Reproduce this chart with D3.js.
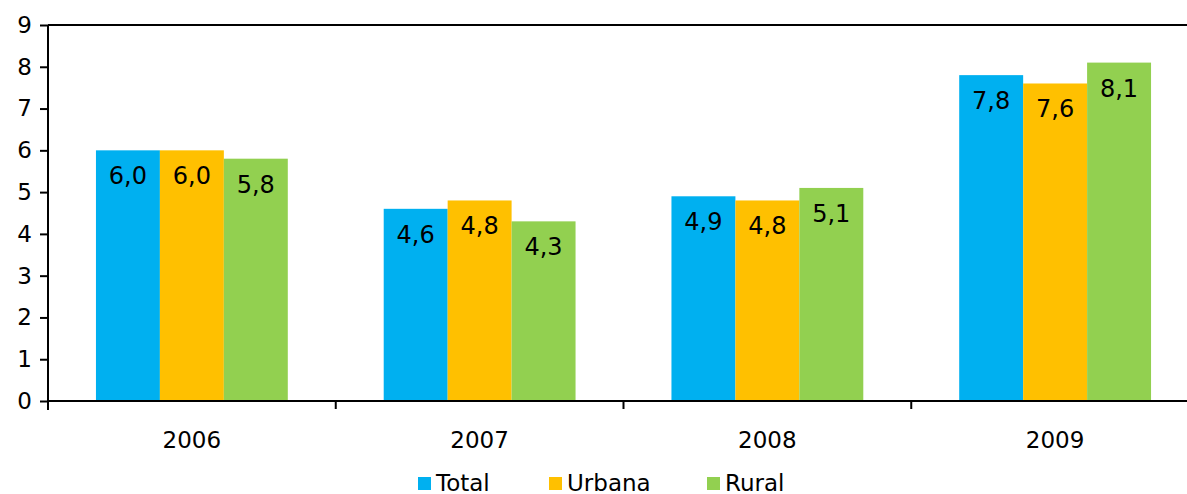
<!DOCTYPE html>
<html>
<head>
<meta charset="utf-8">
<script src="https://cdn.jsdelivr.net/npm/d3@7"></script>
<style>
  html, body { margin: 0; padding: 0; background: #fff; }
  svg { display: block; font-family: "DejaVu Sans", sans-serif; }
</style>
</head>
<body>
<svg id="chart" width="1187" height="494"></svg>
<script>
// Years on the x axis
const years = ["2006", "2007", "2008", "2009"];
// Series names and colours
const seriesNames = ["Total", "Urbana", "Rural"];
const seriesColors = ["#00B0F0", "#FFC000", "#92D050"];
// Values per series, one entry per year
const totalValues = [6.0, 4.6, 4.9, 7.8];
const urbanaValues = [6.0, 4.8, 4.8, 7.6];
const ruralValues = [5.8, 4.3, 5.1, 8.1];
// Y axis ticks
const yTicks = [0, 1, 2, 3, 4, 5, 6, 7, 8, 9];

const seriesValues = [totalValues, urbanaValues, ruralValues];
const fmt = v => v.toFixed(1).replace(".", ",");

const svg = d3.select("#chart");
const plotLeft = 48, plotRight = 1199, plotTop = 25, plotBottom = 401;

const x = d3.scaleBand().domain(years).range([plotLeft, plotRight]).paddingInner(0).paddingOuter(0);
const inner = d3.scaleBand().domain(seriesNames).range([0, x.bandwidth()]).paddingInner(0).paddingOuter(0.75);
const y = d3.scaleLinear().domain([0, 9]).range([plotBottom, plotTop]);

// Bars
const groups = svg.append("g").selectAll("g")
  .data(years)
  .join("g")
  .attr("transform", d => `translate(${x(d)},0)`);

groups.selectAll("rect")
  .data((d, i) => seriesNames.map((s, k) => ({ s, k, v: seriesValues[k][i] })))
  .join("rect")
  .attr("x", d => inner(d.s))
  .attr("width", inner.bandwidth())
  .attr("y", d => y(d.v))
  .attr("height", d => y(0) - y(d.v))
  .attr("fill", d => seriesColors[d.k]);

groups.selectAll("text")
  .data((d, i) => seriesNames.map((s, k) => ({ s, k, v: seriesValues[k][i] })))
  .join("text")
  .attr("x", d => inner(d.s) + inner.bandwidth() / 2)
  .attr("y", d => y(d.v) + 26)
  .attr("text-anchor", "middle")
  .attr("dominant-baseline", "central")
  .attr("font-size", 24)
  .attr("fill", "#000")
  .text(d => fmt(d.v));

// Y axis
const yAxis = svg.append("g")
  .attr("transform", `translate(${plotLeft},0)`)
  .call(d3.axisLeft(y).tickValues(yTicks).tickSize(8).tickPadding(8).tickFormat(d3.format("d")));
yAxis.select(".domain").attr("stroke", "#000").attr("stroke-width", 2).attr("d", `M0,${plotBottom + 9}V${plotTop}`);
yAxis.selectAll(".tick line").attr("stroke", "#000").attr("stroke-width", 2);
yAxis.selectAll(".tick text").attr("font-size", 23).attr("font-family", "DejaVu Sans").attr("fill", "#000");

// Top border line
svg.append("line")
  .attr("x1", plotLeft).attr("x2", 1187)
  .attr("y1", plotTop).attr("y2", plotTop)
  .attr("stroke", "#000").attr("stroke-width", 2);

// X axis with ticks at category boundaries
const xAxisG = svg.append("g");
xAxisG.append("line")
  .attr("x1", plotLeft).attr("x2", 1187)
  .attr("y1", plotBottom).attr("y2", plotBottom)
  .attr("stroke", "#000").attr("stroke-width", 2);
xAxisG.selectAll("line.tk")
  .data(years.slice(1))
  .join("line")
  .attr("class", "tk")
  .attr("x1", d => x(d)).attr("x2", d => x(d))
  .attr("y1", plotBottom).attr("y2", plotBottom + 8)
  .attr("stroke", "#000").attr("stroke-width", 2);
xAxisG.selectAll("text")
  .data(years)
  .join("text")
  .attr("x", d => x(d) + x.bandwidth() / 2)
  .attr("y", 440)
  .attr("text-anchor", "middle")
  .attr("dominant-baseline", "central")
  .attr("font-size", 23)
  .attr("fill", "#000")
  .text(d => d);

// Legend
const legendX = [418, 549, 707];
const legend = svg.append("g").selectAll("g")
  .data(seriesNames)
  .join("g")
  .attr("transform", (d, i) => `translate(${legendX[i]},483)`);
legend.append("rect")
  .attr("x", 0).attr("y", -6)
  .attr("width", 13).attr("height", 13)
  .attr("fill", (d, i) => seriesColors[i]);
legend.append("text")
  .attr("x", 18).attr("y", 0)
  .attr("dominant-baseline", "central")
  .attr("font-size", 23)
  .attr("fill", "#000")
  .text(d => d);
</script>
</body>
</html>
